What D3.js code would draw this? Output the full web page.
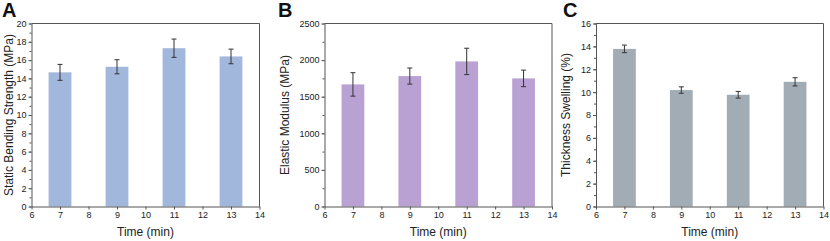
<!DOCTYPE html>
<html>
<head>
<meta charset="utf-8">
<script src="https://cdn.jsdelivr.net/npm/d3@7"></script>
<style>
  body { margin: 0; background: #fff; }
  svg { font-family: "Liberation Sans", Arial, sans-serif; }
</style>
</head>
<body>
<div id="main"></div>
<script>
const WIDTH = 830, HEIGHT = 241;

// data
const times = [7, 9, 11, 13];
const strength = [14.66, 15.27, 17.3, 16.4];
const strengthErr = [0.87, 0.77, 1.0, 0.8];
const modulus = [1668, 1782, 1982, 1750];
const modulusErr = [160, 110, 180, 113];
const swelling = [13.78, 10.18, 9.77, 10.9];
const swellingErr = [0.33, 0.28, 0.29, 0.36];
const xTicks = [6, 7, 8, 9, 10, 11, 12, 13, 14];

const panels = [
    {letter: "A", left: 31.5, right: 259.5, letterX: 2, yMax: 20, major: 2, minor: 1,
     title: "Static Bending Strength (MPa)", titleX: 13, vals: strength, errs: strengthErr, color: "#a1b7dc"},
    {letter: "B", left: 324.5, right: 552, letterX: 278, yMax: 2500, major: 500, minor: 250,
     title: "Elastic Modulus (MPa)", titleX: 289, vals: modulus, errs: modulusErr, color: "#b9a2d3"},
    {letter: "C", left: 596, right: 823.5, letterX: 563, yMax: 16, major: 2, minor: 1,
     title: "Thickness Swelling (%)", titleX: 570, vals: swelling, errs: swellingErr, color: "#a2acb4"},
];
const TOP = 23.5, BOTTOM = 206.5;
const AXIS = "#555";

const svg = d3.select("#main").append("svg")
    .attr("width", WIDTH).attr("height", HEIGHT);

function drawPanel(p) {
    const g = svg.append("g");
    const x = d3.scaleLinear().domain([6, 14]).range([p.left, p.right]);
    const y = d3.scaleLinear().domain([0, p.yMax]).range([BOTTOM, TOP]);
    const bw = x(7.4) - x(6.6);

    // bars
    g.selectAll("rect.bar").data(times).enter().append("rect")
        .attr("x", d => x(d) - bw / 2)
        .attr("width", bw)
        .attr("y", (d, i) => y(p.vals[i]))
        .attr("height", (d, i) => BOTTOM - y(p.vals[i]))
        .attr("fill", p.color);

    // error bars
    const eb = g.selectAll("g.err").data(times).enter().append("g")
        .attr("stroke", "#333").attr("stroke-width", 1);
    eb.append("line")
        .attr("x1", d => x(d)).attr("x2", d => x(d))
        .attr("y1", (d, i) => y(p.vals[i] + p.errs[i]))
        .attr("y2", (d, i) => y(p.vals[i] - p.errs[i]));
    eb.append("line")
        .attr("x1", d => x(d) - 2.5).attr("x2", d => x(d) + 2.5)
        .attr("y1", (d, i) => y(p.vals[i] + p.errs[i]))
        .attr("y2", (d, i) => y(p.vals[i] + p.errs[i]));
    eb.append("line")
        .attr("x1", d => x(d) - 2.5).attr("x2", d => x(d) + 2.5)
        .attr("y1", (d, i) => y(p.vals[i] - p.errs[i]))
        .attr("y2", (d, i) => y(p.vals[i] - p.errs[i]));

    // minor y ticks
    const minorTicks = d3.range(0, p.yMax + 0.001, p.minor);
    g.append("g").attr("transform", `translate(${p.left},0)`)
        .call(d3.axisLeft(y).tickValues(minorTicks).tickSize(2).tickFormat(""))
        .call(a => a.select(".domain").remove())
        .call(a => a.selectAll("line").attr("stroke", AXIS));

    // major y axis
    const yAxis = g.append("g").attr("transform", `translate(${p.left},0)`)
        .call(d3.axisLeft(y).tickValues(d3.range(0, p.yMax + 0.001, p.major))
            .tickSize(3).tickPadding(2).tickSizeOuter(0).tickFormat(d3.format("d")));
    yAxis.select(".domain").attr("stroke", AXIS);
    yAxis.selectAll("line").attr("stroke", AXIS);
    yAxis.selectAll("text").attr("font-size", 9).attr("fill", "#222")
        .attr("font-family", "Liberation Sans, Arial, sans-serif");

    // x axis
    const xAxis = g.append("g").attr("transform", `translate(0,${BOTTOM})`)
        .call(d3.axisBottom(x).tickValues(xTicks).tickSize(3).tickPadding(2).tickSizeOuter(0));
    xAxis.select(".domain").attr("stroke", AXIS);
    xAxis.selectAll("line").attr("stroke", AXIS);
    xAxis.selectAll("text").attr("font-size", 9).attr("fill", "#222")
        .attr("font-family", "Liberation Sans, Arial, sans-serif");

    // frame top and right
    g.append("path")
        .attr("d", `M${p.left},${TOP}H${p.right}V${BOTTOM}`)
        .attr("fill", "none").attr("stroke", AXIS).attr("stroke-width", 1);

    // titles
    g.append("text")
        .attr("x", (p.left + p.right) / 2).attr("y", 236)
        .attr("text-anchor", "middle").attr("font-size", 12).attr("fill", "#222")
        .text("Time (min)");
    g.append("text")
        .attr("transform", `translate(${p.titleX},${(TOP + BOTTOM) / 2}) rotate(-90)`)
        .attr("text-anchor", "middle").attr("font-size", 12).attr("fill", "#222")
        .text(p.title);
    g.append("text")
        .attr("x", p.letterX).attr("y", 17)
        .attr("font-size", 20).attr("font-weight", "bold").attr("fill", "#111")
        .text(p.letter);
}

panels.forEach(drawPanel);
</script>
</body>
</html>
